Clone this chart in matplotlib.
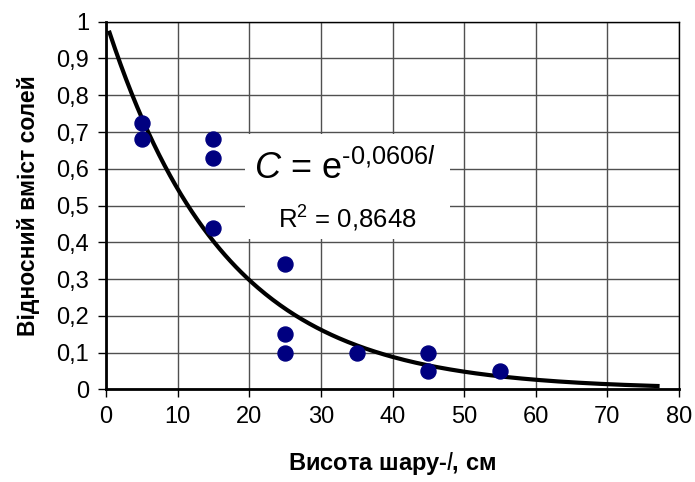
import numpy as np
import matplotlib
matplotlib.use("Agg")
import matplotlib.pyplot as plt
from matplotlib.patches import Rectangle
from matplotlib.ticker import FuncFormatter, MultipleLocator

plt.rcParams["font.family"] = ["Liberation Sans", "DejaVu Sans"]
plt.rcParams["mathtext.fontset"] = "custom"
plt.rcParams["mathtext.rm"] = "Liberation Sans"
plt.rcParams["mathtext.it"] = "Liberation Sans:italic"

# measured points: layer height (cm) vs relative salt content
height = [5, 5, 15, 15, 15, 25, 25, 25, 35, 45, 45, 55]
salt = [0.725, 0.68, 0.68, 0.63, 0.44, 0.34, 0.15, 0.10, 0.10, 0.10, 0.05, 0.05]

# exponential trend line C = exp(k * l)
k = -0.0606
l_start, l_end = 0.5, 77
r2_text = "R$^2$ = 0,8648"

fig = plt.figure(figsize=(6.95, 4.82), dpi=100)
ax = fig.add_axes([0.1525, 0.192, 0.8245, 0.763])

l_fit = np.linspace(l_start, l_end, 300)
ax.plot(l_fit, np.exp(k * l_fit), color="black", lw=3.0, zorder=3)
ax.plot(height, salt, "o", color="#000080", ms=10.8, mec="#000080", zorder=4)

ax.set_xlim(0, 80)
ax.set_ylim(0, 1)
ax.xaxis.set_major_locator(MultipleLocator(10))
ax.yaxis.set_major_locator(MultipleLocator(0.1))
ax.yaxis.set_major_formatter(FuncFormatter(
    lambda v, _: "0" if abs(v) < 1e-9 else ("1" if abs(v - 1) < 1e-9 else f"{v:.1f}".replace(".", ","))))
ax.grid(True, color="#505050", lw=1.0, zorder=0)
ax.tick_params(labelsize=17, length=6, width=1, direction="out", pad=6)

for side in ("left", "bottom"):
    ax.spines[side].set_linewidth(2)
for side in ("top", "right"):
    ax.spines[side].set_linewidth(1)

# white box behind the equation
box = Rectangle((19.4, 0.41), 28.6, 0.284, facecolor="white", edgecolor="none", zorder=2)
ax.add_patch(box)
ax.text(33.4, 0.60, "$\\mathit{C}$ = e$^{\u20100{,}0606\\mathit{l}}$",
        fontsize=26, ha="center", va="center", zorder=5)
ax.text(33.7, 0.465, r2_text, fontsize=18.5, ha="center", va="center", zorder=5)

ax.set_xlabel(r"Висота шару-$\mathit{l}$, см", fontsize=17, fontweight="bold", labelpad=16)
ax.set_ylabel("Відносний вміст солей", fontsize=16.5, fontweight="bold", labelpad=12)

fig.savefig("out.png", dpi=100)
